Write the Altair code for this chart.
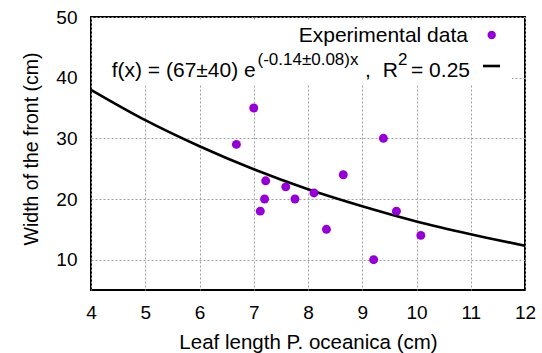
import altair as alt
import pandas as pd

# ---- data ----
leaf_length = [6.68, 7.00, 7.12, 7.20, 7.22, 7.59, 7.76, 8.11, 8.34, 8.65, 9.21, 9.39, 9.63, 10.08]
front_width = [29, 35, 18, 20, 23, 22, 20, 21, 15, 24, 10, 30, 18, 14]

fit_x = [4, 5, 6, 7, 8, 9, 10, 11, 12]
fit_y = [38.0, 33.0, 28.7, 24.9, 21.6, 18.8, 16.3, 14.2, 12.3]

x_ticks = [4, 5, 6, 7, 8, 9, 10, 11, 12]
y_ticks = [10, 20, 30, 40, 50]

legend_points = "Experimental data"
legend_fit_main = "f(x) = (67±40) e"
legend_fit_exp = "(-0.14±0.08)x"
legend_fit_r = "R"
legend_fit_r_sup = "2"
legend_fit_r_val = "= 0.25"

PURPLE = "#9400d3"
FONT = "Liberation Sans"

pts = pd.DataFrame({"x": leaf_length, "y": front_width})
fit = pd.DataFrame({"x": fit_x, "y": fit_y})

xscale = alt.Scale(domain=[4, 12], nice=False, zero=False)
yscale = alt.Scale(domain=[5, 50], nice=False, zero=False)

xaxis = alt.Axis(
    title="Leaf length P. oceanica (cm)", values=x_ticks, ticks=False, domain=False,
    grid=True, gridColor="#a0a0a0", gridDash=[2, 2], gridWidth=1,
    labelFont=FONT, labelFontSize=19, labelColor="#000", labelPadding=13,
    titleFont=FONT, titleFontSize=20.5, titleFontWeight="normal", titleColor="#000",
    titleBaseline="alphabetic", titleY=58, labelFlush=False,
)
yaxis = alt.Axis(
    title="Width of the front (cm)", values=y_ticks, ticks=False, domain=False,
    grid=True, gridColor="#a0a0a0", gridDash=[2, 2], gridWidth=1,
    labelFont=FONT, labelFontSize=19, labelColor="#000", labelPadding=14,
    titleFont=FONT, titleFontSize=19.5, titleFontWeight="normal", titleColor="#000",
    titleBaseline="alphabetic", titleX=-54, titleY=131.5, titleAngle=270, titleAlign="center",
    labelFlush=False,
)

base_pts = alt.Chart(pts).mark_point(filled=True, size=80, color=PURPLE, opacity=1).encode(
    x=alt.X("x:Q", scale=xscale, axis=xaxis),
    y=alt.Y("y:Q", scale=yscale, axis=yaxis),
)

key_box = alt.Chart(pd.DataFrame({"a": [0]})).mark_rect(fill="white").encode(
    x=alt.value(1), x2=alt.value(421), y=alt.value(4), y2=alt.value(67)
)

curve = alt.Chart(fit).mark_line(color="black", strokeWidth=2.6, interpolate="monotone").encode(
    x=alt.X("x:Q", scale=xscale), y=alt.Y("y:Q", scale=yscale)
)

one = pd.DataFrame({"a": [0]})


def txt(s, x, y, size=21, align="left"):
    return alt.Chart(one).mark_text(
        text=s, font=FONT, fontSize=size, align=align, baseline="alphabetic", color="black"
    ).encode(x=alt.value(x), y=alt.value(y))


legend_dot = alt.Chart(one).mark_point(filled=True, size=70, color=PURPLE, opacity=1).encode(
    x=alt.value(400.7), y=alt.value(18)
)
legend_line = alt.Chart(one).mark_rule(color="black", strokeWidth=2.6).encode(
    x=alt.value(392), x2=alt.value(409), y=alt.value(49)
)

layers = [
    key_box,
    curve,
    base_pts,
    txt(legend_points, 377, 25, align="right"),
    legend_dot,
    txt(legend_fit_main, 20.7, 59.5),
    txt(legend_fit_exp, 166.5, 48, size=17),
    txt(",", 274, 59.5),
    txt(legend_fit_r, 291.7, 59.5),
    txt(legend_fit_r_sup, 307, 48, size=17),
    txt(legend_fit_r_val, 379, 59.5, align="right"),
    legend_line,
]

chart = alt.layer(*layers).properties(
    width=434, height=273,
    padding={"left": 91, "top": 17, "right": 17, "bottom": 63},
    autosize="none",
    background="white",
).configure_view(stroke="black", strokeWidth=2)

chart.save("out.html", embed_options={"renderer": "svg", "actions": False})
